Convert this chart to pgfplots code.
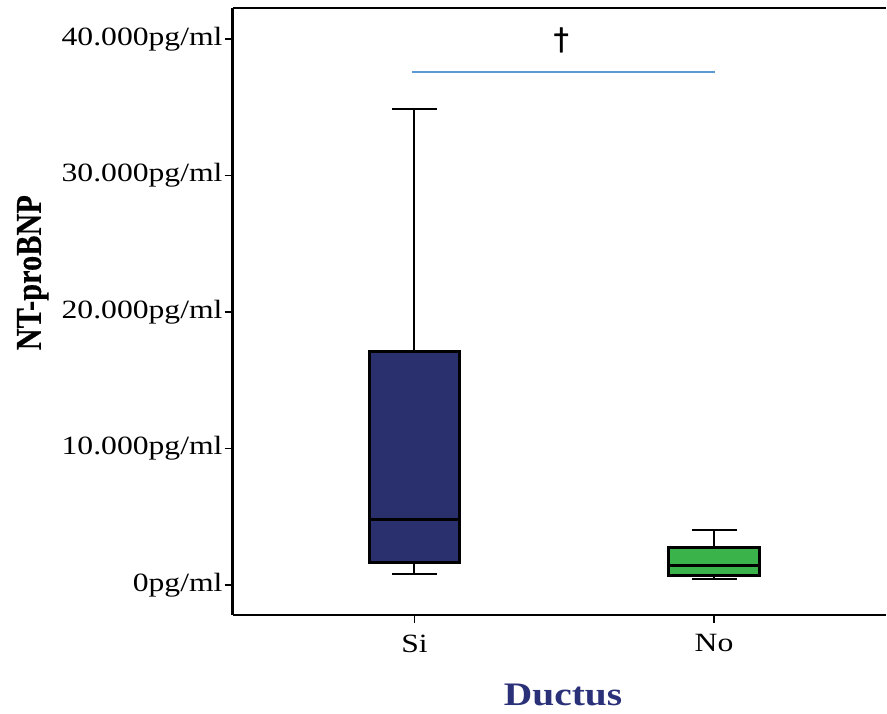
\documentclass[border=0pt]{standalone}
\usepackage{fontspec}
\setmainfont{Liberation Serif}[FakeStretch=1.2]
\newfontfamily\ylabfont{Liberation Serif}[FakeBold=0.4]
\newfontfamily\symfont{DejaVu Sans}[FakeBold=1]
\usepackage{pgfplots}
\pgfplotsset{compat=1.18}
\definecolor{siblue}{HTML}{2A2F6E}
\definecolor{nogreen}{HTML}{3AB34A}
\definecolor{sigline}{HTML}{5B9BD5}
\definecolor{labnavy}{HTML}{2B3178}
\begin{document}
\begin{tikzpicture}
\begin{axis}[name=ax, scale only axis, width=654bp, height=608bp,
  xmin=0.393, xmax=2.573, ymin=-2190, ymax=42270,
  scaled y ticks=false,
  axis x line=box, axis y line=left, axis line style={-, line width=2.6bp, black},
  xtick pos=bottom, ytick pos=left,
  tick align=outside, major tick length=8bp,
  tick style={black, line width=1.4bp},
  xtick={1,2}, xticklabels={Si,No},
  ytick={0,10000,20000,30000,40000},
  yticklabels={0pg/ml,10.000pg/ml,20.000pg/ml,30.000pg/ml,40.000pg/ml},
  ticklabel style={font=\fontsize{26.5}{26.5}\selectfont},
  yticklabel style={inner xsep=2bp},
  xticklabel style={yshift=-8bp},
  ylabel={\ylabfont\fontsize{30.5}{30.5}\selectfont\bfseries NT-proBNP},
  xlabel={\fontsize{33}{33}\selectfont\bfseries Ductus},
  every axis y label/.style={at={(axis description cs:-0.306,0.564)}, rotate=90, yscale=1.2, anchor=center},
  every axis x label/.style={at={(axis description cs:0.506,-0.132)}, anchor=center, text=labnavy},
]
% Si: whiskers
\addplot[black, line width=2bp] coordinates {(1,1660) (1,804)};
\addplot[black, line width=2bp] coordinates {(0.925,804) (1.075,804)};
\addplot[black, line width=2bp] coordinates {(1,17134) (1,34880)};
\addplot[black, line width=2bp] coordinates {(0.925,34880) (1.075,34880)};
% Si: box and median
\addplot[fill=siblue, draw=black, line width=2.8bp] coordinates {(0.8485,1660) (1.1515,1660) (1.1515,17134) (0.8485,17134)} --cycle;
\addplot[black, line width=2.8bp] coordinates {(0.8485,4826) (1.1515,4826)};
% No: whiskers
\addplot[black, line width=2bp] coordinates {(2,731) (2,439)};
\addplot[black, line width=2bp] coordinates {(1.925,439) (2.075,439)};
\addplot[black, line width=2bp] coordinates {(2,2757) (2,4022)};
\addplot[black, line width=2bp] coordinates {(1.925,4022) (2.075,4022)};
% No: box and median
\addplot[fill=nogreen, draw=black, line width=2.8bp] coordinates {(1.8485,731) (2.1515,731) (2.1515,2757) (1.8485,2757)} --cycle;
\addplot[black, line width=2.8bp] coordinates {(1.8485,1462) (2.1515,1462)};
% significance
\addplot[sigline, line width=2bp] coordinates {(0.993,37590) (2.003,37590)};
\node at (axis cs:1.49,39930) {\symfont\fontsize{30}{30}\selectfont\symbol{"2020}};
\end{axis}
\path ([xshift=-233bp,yshift=-99bp]ax.south west) rectangle ([yshift=8bp]ax.north east);
\end{tikzpicture}
\end{document}
